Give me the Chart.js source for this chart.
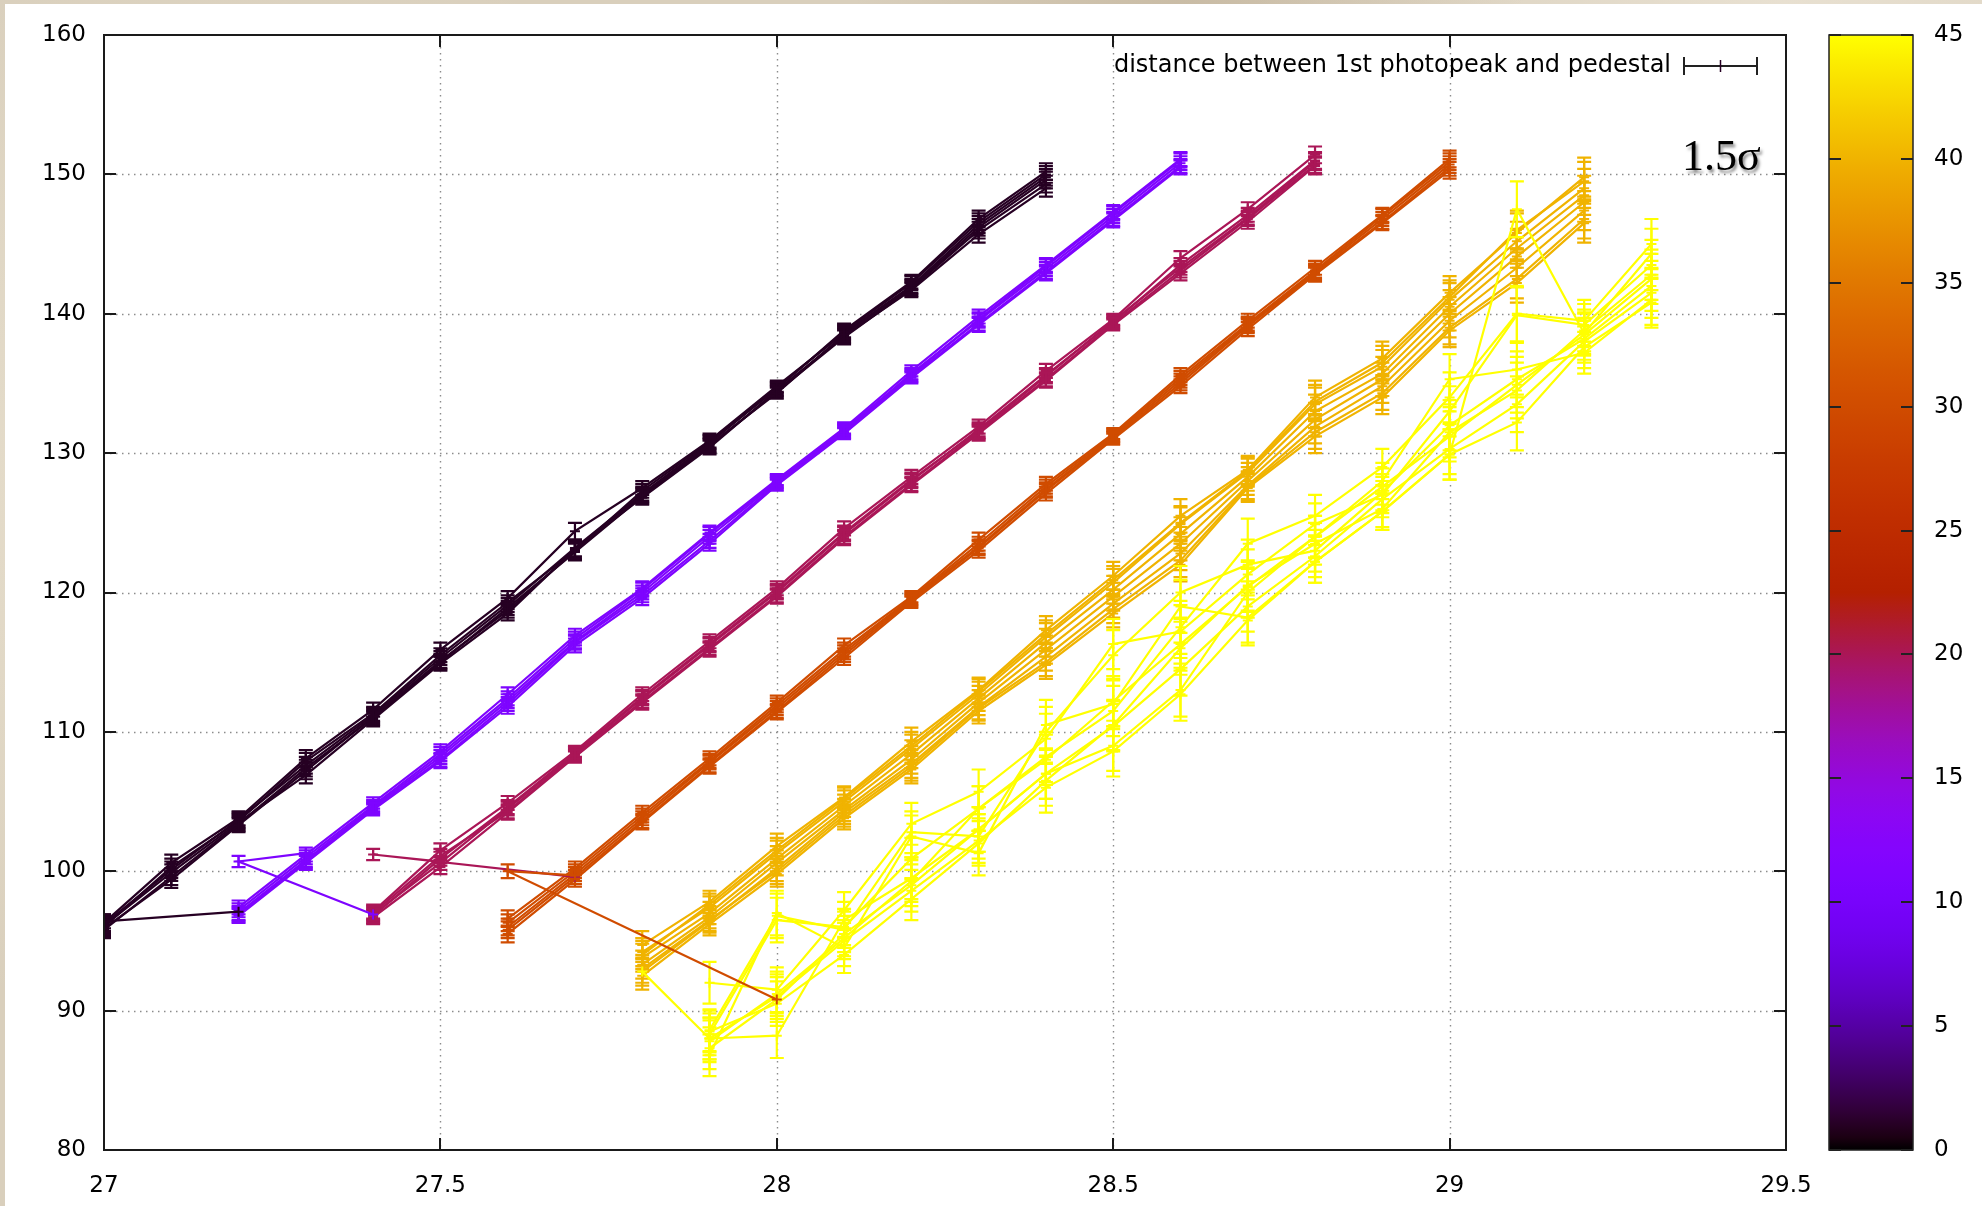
<!DOCTYPE html>
<html>
<head>
<meta charset="utf-8">
<script src="https://cdn.jsdelivr.net/npm/chart.js@4.4.1/dist/chart.umd.min.js"></script>
<style>
html,body{margin:0;padding:0;}
body{width:1982px;height:1206px;overflow:hidden;position:relative;
  background-color:#d9cfbc;
  background-image:
    radial-gradient(circle at 12% 40%, rgba(255,250,235,0.45), rgba(255,250,235,0) 30%),
    radial-gradient(circle at 60% 2%, rgba(170,150,120,0.35), rgba(170,150,120,0) 20%),
    radial-gradient(circle at 90% 1%, rgba(255,250,240,0.4), rgba(255,250,240,0) 25%);}
#panel{position:absolute;left:5px;top:4px;right:0;bottom:0;background:#ffffff;}
#wrap{position:absolute;left:0;top:0;width:1982px;height:1206px;}
</style>
</head>
<body>
<div id="panel"></div>
<div id="wrap"><canvas id="c" width="1982" height="1206"></canvas></div>
<script>
// ---------- tick labels ----------
const xTicks = [27, 27.5, 28, 28.5, 29, 29.5];
const yTicks = [80, 90, 100, 110, 120, 130, 140, 150, 160];
const cbTicks = [0, 5, 10, 15, 20, 25, 30, 35, 40, 45];

// ---------- palette values of the groups ----------
const groupValues = [1, 11, 20, 30, 40, 45];

// ---------- x values of the groups ----------
const xBlack   = [27.0, 27.1, 27.2, 27.3, 27.4, 27.5, 27.6, 27.7, 27.8, 27.9, 28.0, 28.1, 28.2, 28.3, 28.4];
const xViolet  = [27.2, 27.3, 27.4, 27.5, 27.6, 27.7, 27.8, 27.9, 28.0, 28.1, 28.2, 28.3, 28.4, 28.5, 28.6];
const xMagenta = [27.4, 27.5, 27.6, 27.7, 27.8, 27.9, 28.0, 28.1, 28.2, 28.3, 28.4, 28.5, 28.6, 28.7, 28.8];
const xOrange  = [27.6, 27.7, 27.8, 27.9, 28.0, 28.1, 28.2, 28.3, 28.4, 28.5, 28.6, 28.7, 28.8, 28.9, 29.0];
const xAmber   = [27.8, 27.9, 28.0, 28.1, 28.2, 28.3, 28.4, 28.5, 28.6, 28.7, 28.8, 28.9, 29.0, 29.1, 29.2];
const xYellow  = [27.9, 28.0, 28.1, 28.2, 28.3, 28.4, 28.5, 28.6, 28.7, 28.8, 28.9, 29.0, 29.1, 29.2, 29.3];

// ---------- y values (one array per line) ----------
const yBlack = [
  [96.0, 100.3, 103.6, 107.9, 111.3, 115.5, 119.3, 123.0, 127.3, 130.8, 134.6, 138.8, 142.3, 146.8, 150.2],
  [96.3, 100.6, 103.8, 108.1, 111.6, 115.9, 119.6, 124.4, 127.5, 130.9, 134.8, 138.6, 142.0, 146.4, 149.8],
  [95.8, 99.6, 103.4, 107.4, 111.0, 115.0, 118.9, 122.9, 126.9, 130.5, 134.4, 138.3, 141.8, 146.0, 149.3],
  [96.1, 99.9, 103.5, 106.9, 110.9, 114.9, 118.5, 123.1, 126.8, 130.4, 134.5, 138.4, 141.7, 145.7, 149.0],
  [96.2, 100.1, 103.7, 107.6, 111.2, 115.3, 119.1, 123.2, 127.1, 130.7, 134.7, 138.7, 142.2, 146.6, 150.0],
  [95.9, 99.4, 103.3, 107.2, 111.1, 115.1, 118.7, 123.0, 127.0, 130.6, 134.3, 138.5, 141.9, 146.2, 149.6]
];
const yViolet = [
  [97.0, 100.8, 104.6, 108.2, 112.2, 116.5, 120.0, 124.0, 127.9, 131.6, 135.7, 139.5, 143.2, 147.0, 150.8],
  [97.4, 101.2, 104.9, 108.6, 112.7, 116.9, 120.3, 124.3, 128.1, 131.8, 135.9, 139.8, 143.5, 147.3, 151.1],
  [96.8, 100.6, 104.4, 107.9, 111.8, 116.2, 119.6, 123.5, 127.7, 131.4, 135.4, 139.2, 142.9, 146.7, 150.5],
  [97.2, 101.0, 104.7, 108.4, 112.4, 116.7, 120.2, 124.2, 128.0, 131.7, 135.6, 139.6, 143.4, 147.2, 151.0],
  [96.9, 100.7, 104.5, 108.0, 112.0, 116.4, 119.8, 123.7, 127.8, 131.5, 135.5, 139.3, 143.0, 146.8, 150.6]
];
const yMagenta = [
  [96.9, 100.6, 104.5, 108.4, 112.4, 116.2, 120.0, 124.2, 128.0, 131.7, 135.6, 139.4, 143.5, 147.1, 151.0],
  [97.1, 101.5, 104.9, 108.6, 112.7, 116.5, 120.3, 124.6, 128.3, 131.9, 135.9, 139.6, 144.0, 147.5, 151.4],
  [96.7, 100.3, 104.2, 108.2, 112.1, 115.9, 119.7, 123.9, 127.7, 131.4, 135.2, 139.2, 142.9, 146.6, 150.6],
  [96.8, 100.9, 104.6, 108.5, 112.5, 116.3, 120.1, 124.3, 128.1, 131.6, 135.5, 139.5, 143.3, 146.9, 150.9],
  [97.0, 101.1, 104.3, 108.3, 112.2, 116.0, 119.8, 124.0, 127.8, 131.5, 135.3, 139.3, 143.1, 146.8, 150.7]
];
const yOrange = [
  [96.0, 99.8, 103.8, 107.8, 111.7, 115.7, 119.5, 123.3, 127.4, 131.2, 135.2, 139.2, 143.0, 146.8, 150.7],
  [96.6, 100.2, 104.2, 108.1, 112.1, 116.2, 119.7, 123.8, 127.8, 131.4, 135.6, 139.5, 143.3, 147.1, 151.1],
  [95.5, 99.4, 103.5, 107.5, 111.4, 115.3, 119.3, 123.0, 127.1, 131.0, 134.8, 138.9, 142.8, 146.5, 150.3],
  [96.3, 100.0, 104.0, 107.9, 111.9, 115.9, 119.6, 123.5, 127.6, 131.3, 135.4, 139.3, 143.1, 147.0, 150.9],
  [95.8, 99.6, 103.6, 107.6, 111.5, 115.5, 119.4, 123.2, 127.3, 131.1, 135.0, 139.1, 142.9, 146.6, 150.5]
];
const yAmber = [
  [94.7, 97.8, 101.8, 105.3, 109.3, 113.0, 117.3, 121.2, 125.5, 128.8, 134.0, 136.8, 141.5, 145.8, 149.8],
  [94.2, 97.4, 101.3, 105.0, 108.8, 112.7, 116.8, 120.7, 124.9, 128.6, 133.5, 136.2, 141.0, 145.2, 149.0],
  [93.8, 97.0, 100.9, 104.7, 108.4, 112.4, 116.4, 120.2, 124.2, 128.3, 133.0, 135.7, 140.5, 144.7, 148.5],
  [93.3, 96.7, 100.6, 104.4, 108.0, 112.1, 115.9, 119.7, 123.5, 128.0, 132.4, 135.3, 140.0, 144.1, 148.0],
  [92.8, 96.4, 100.2, 104.2, 107.7, 111.8, 115.4, 119.2, 122.8, 127.7, 131.9, 134.8, 139.5, 143.3, 147.4],
  [93.0, 96.5, 100.0, 104.0, 107.5, 111.7, 115.0, 118.8, 122.3, 127.6, 131.5, 134.3, 139.0, 142.5, 146.8],
  [94.0, 97.6, 101.5, 105.2, 109.0, 112.9, 117.0, 120.9, 125.0, 128.7, 133.7, 136.5, 141.2, 146.0, 149.5],
  [92.5, 96.2, 99.8, 103.8, 107.3, 111.5, 114.8, 118.5, 122.0, 127.5, 131.2, 134.0, 138.8, 142.2, 146.5]
];
const yYellow = [
  [88.0, 91.0, 95.0, 98.6, 102.2, 106.0, 108.6, 112.7, 118.0, 122.2, 125.8, 129.9, 132.2, 137.6, 140.8],
  [87.3, 90.8, 95.5, 99.0, 103.0, 107.0, 110.4, 114.5, 119.0, 122.6, 126.7, 130.3, 133.5, 138.0, 141.5],
  [88.3, 96.5, 96.0, 100.9, 104.5, 108.0, 112.2, 116.3, 120.4, 124.0, 127.6, 131.2, 134.9, 138.5, 142.5],
  [92.0, 91.5, 97.2, 103.4, 105.7, 109.5, 116.3, 117.2, 121.3, 124.9, 127.0, 133.0, 139.9, 139.2, 143.5],
  [86.8, 97.0, 94.5, 102.5, 101.3, 110.5, 112.0, 119.0, 118.2, 122.2, 125.8, 129.9, 147.5, 138.6, 144.3],
  [88.0, 88.2, 96.5, 99.5, 103.0, 107.0, 109.0, 113.0, 120.0, 124.0, 128.0, 135.3, 136.0, 137.2, 141.0],
  [88.5, 90.5, 94.0, 98.0, 102.0, 106.5, 110.5, 116.0, 120.5, 123.5, 126.0, 131.5, 134.5, 138.8, 142.8],
  [87.8, 91.2, 95.2, 99.3, 104.5, 108.2, 111.5, 117.5, 123.5, 125.5, 129.0, 134.0, 140.0, 139.5, 145.0],
  [88.6, 96.8, 95.8, 102.8, 102.5, 110.0, 115.5, 120.0, 122.0, 123.0, 127.2, 132.0, 135.3, 138.2, 142.0]
];

// ---------- error bar half-widths per group ----------
const errBlack   = [0.6, 0.6, 0.5, 0.6, 0.5, 0.5, 0.5, 0.6, 0.5, 0.5, 0.4, 0.5, 0.5, 0.6, 0.6];
const errViolet  = [0.5, 0.5, 0.4, 0.5, 0.5, 0.5, 0.5, 0.5, 0.4, 0.4, 0.4, 0.5, 0.5, 0.5, 0.5];
const errMagenta = [0.5, 0.5, 0.5, 0.4, 0.5, 0.5, 0.5, 0.5, 0.5, 0.5, 0.5, 0.4, 0.5, 0.5, 0.6];
const errOrange  = [0.6, 0.5, 0.5, 0.5, 0.5, 0.5, 0.4, 0.5, 0.5, 0.4, 0.5, 0.5, 0.5, 0.5, 0.6];
const errAmber   = [1.0, 0.8, 0.9, 0.8, 1.0, 0.9, 1.0, 1.0, 1.2, 1.0, 1.2, 1.2, 1.2, 1.4, 1.4];
const errYellow  = [1.5, 1.6, 1.3, 1.5, 1.6, 1.8, 1.8, 1.9, 1.8, 1.5, 1.3, 1.8, 2.0, 1.5, 1.8];

// ---------- short connecting segments between groups ----------
const strayValues = [1, 11, 20, 30, 45];
const strayX = [[27.0, 27.2], [27.3, 27.2, 27.4], [27.5, 27.4, 27.7], [27.7, 27.6, 28.0], [27.8, 27.9]];
const strayY = [[96.4, 97.1], [101.3, 100.7, 96.9], [100.7, 101.2, 99.6], [99.7, 100.0, 90.8], [92.8, 88.0]];
const strayErr = [[0.5, 0], [0, 0.4, 0], [0, 0.4, 0], [0, 0.5, 0], [0, 0]];

// ---------- palette (gnuplot rgbformulae 7,5,15, cbrange 0..45) ----------
const CBMAX = 45;
function pal(v) {
  const t = Math.min(1, Math.max(0, v / CBMAX));
  const r = Math.sqrt(t), g = t * t * t, b = Math.max(0, Math.sin(2 * Math.PI * t));
  return 'rgb(' + Math.round(255 * r) + ',' + Math.round(255 * g) + ',' + Math.round(255 * b) + ')';
}

// ---------- build datasets ----------
const groups = [
  {x: xBlack, ys: yBlack, err: errBlack},
  {x: xViolet, ys: yViolet, err: errViolet},
  {x: xMagenta, ys: yMagenta, err: errMagenta},
  {x: xOrange, ys: yOrange, err: errOrange},
  {x: xAmber, ys: yAmber, err: errAmber},
  {x: xYellow, ys: yYellow, err: errYellow}
];
const datasets = [];
function addSet(xs, ys, errs, val) {
  const col = pal(val);
  datasets.push({
    label: 'distance between 1st photopeak and pedestal',
    data: xs.map((x, i) => ({x: x, y: ys[i]})),
    errors: errs,
    borderColor: col,
    backgroundColor: col,
    borderWidth: 2.2,
    pointStyle: 'cross',
    pointRadius: 5,
    pointBorderWidth: 2,
    pointHoverRadius: 5,
    tension: 0,
    fill: false
  });
}
groups.forEach((g, gi) => g.ys.forEach(ys => addSet(g.x, ys, g.err, groupValues[gi])));
strayX.forEach((xs, i) => addSet(xs, strayY[i], strayErr[i], strayValues[i]));
datasets.forEach((d, i) => { d.order = datasets.length - i; });

const FONT = '"DejaVu Sans", Verdana, sans-serif';
const FSIZE = 23;
const TICK = 12;

const decorPlugin = {
  id: 'decor',
  beforeDatasetsDraw(chart) {
    const ctx = chart.ctx, ca = chart.chartArea, xs = chart.scales.x, ys = chart.scales.y;
    ctx.save();
    ctx.strokeStyle = '#8c8c8c';
    ctx.lineWidth = 1.4;
    ctx.setLineDash([1.5, 4.5]);
    xTicks.forEach(v => {
      if (v === xs.min || v === xs.max) return;
      const p = Math.round(xs.getPixelForValue(v)) + 0.5;
      ctx.beginPath(); ctx.moveTo(p, ca.top); ctx.lineTo(p, ca.bottom); ctx.stroke();
    });
    yTicks.forEach(v => {
      if (v === ys.min || v === ys.max) return;
      const p = Math.round(ys.getPixelForValue(v)) + 0.5;
      ctx.beginPath(); ctx.moveTo(ca.left, p); ctx.lineTo(ca.right, p); ctx.stroke();
    });
    ctx.restore();
  },
  afterDatasetDraw(chart, args) {
    const ds = chart.data.datasets[args.index];
    if (!ds.errors) return;
    const ctx = chart.ctx, ca = chart.chartArea, xs = chart.scales.x, ys = chart.scales.y;
    ctx.save();
    ctx.beginPath(); ctx.rect(ca.left, ca.top, ca.width, ca.height); ctx.clip();
    ctx.strokeStyle = ds.borderColor;
    ctx.lineWidth = 2.2;
    ds.data.forEach((p, i) => {
      const e = ds.errors[i];
      if (!e) return;
      const px = xs.getPixelForValue(p.x);
      const y1 = ys.getPixelForValue(p.y - e), y2 = ys.getPixelForValue(p.y + e);
      ctx.beginPath();
      ctx.moveTo(px, y1); ctx.lineTo(px, y2);
      ctx.moveTo(px - 7, y1); ctx.lineTo(px + 7, y1);
      ctx.moveTo(px - 7, y2); ctx.lineTo(px + 7, y2);
      ctx.stroke();
    });
    ctx.restore();
  },
  afterDatasetsDraw(chart) {
    const ctx = chart.ctx, ca = chart.chartArea, xs = chart.scales.x, ys = chart.scales.y;
    ctx.save();
    ctx.strokeStyle = '#1a1a1a';
    ctx.lineWidth = 2;
    ctx.strokeRect(Math.round(ca.left), Math.round(ca.top), Math.round(ca.width), Math.round(ca.height));
    ctx.beginPath();
    xTicks.forEach(v => {
      const p = Math.round(xs.getPixelForValue(v));
      ctx.moveTo(p, ca.bottom); ctx.lineTo(p, ca.bottom - TICK);
      ctx.moveTo(p, ca.top); ctx.lineTo(p, ca.top + TICK);
    });
    yTicks.forEach(v => {
      const p = Math.round(ys.getPixelForValue(v));
      ctx.moveTo(ca.left, p); ctx.lineTo(ca.left + TICK, p);
      ctx.moveTo(ca.right, p); ctx.lineTo(ca.right - TICK, p);
    });
    ctx.stroke();
    ctx.restore();
  },
  afterDraw(chart) {
    const ctx = chart.ctx, ca = chart.chartArea, cb = chart.scales.cb;
    // colour box
    const bx0 = ca.right + 43, bx1 = ca.right + 127;
    const top = cb.getPixelForValue(cbTicks[cbTicks.length - 1]), bot = cb.getPixelForValue(cbTicks[0]);
    const grad = ctx.createLinearGradient(0, bot, 0, top);
    for (let k = 0; k <= 90; k++) grad.addColorStop(k / 90, pal(CBMAX * k / 90));
    ctx.save();
    ctx.fillStyle = grad;
    ctx.fillRect(bx0, top, bx1 - bx0, bot - top);
    ctx.strokeStyle = '#222';
    ctx.lineWidth = 1.5;
    ctx.strokeRect(bx0, top, bx1 - bx0, bot - top);
    ctx.beginPath();
    cbTicks.forEach(v => {
      const p = Math.round(cb.getPixelForValue(v));
      ctx.moveTo(bx0, p); ctx.lineTo(bx0 + TICK, p);
      ctx.moveTo(bx1, p); ctx.lineTo(bx1 - TICK, p);
    });
    ctx.lineWidth = 2;
    ctx.stroke();

    // key
    const ky = ca.top + 31;
    ctx.fillStyle = '#000';
    ctx.font = '24px ' + FONT;
    ctx.textAlign = 'right';
    ctx.textBaseline = 'middle';
    ctx.fillText('distance between 1st photopeak and pedestal', ca.right - 115, ky);
    const sx0 = ca.right - 102, sx1 = ca.right - 29;
    ctx.strokeStyle = '#222';
    ctx.lineWidth = 2;
    ctx.beginPath();
    ctx.moveTo(sx0, ky); ctx.lineTo(sx1, ky);
    ctx.moveTo(sx0, ky - 9); ctx.lineTo(sx0, ky + 9);
    ctx.moveTo(sx1, ky - 9); ctx.lineTo(sx1, ky + 9);
    ctx.stroke();
    ctx.strokeStyle = pal(groupValues[0]);
    ctx.lineWidth = 1.5;
    ctx.beginPath();
    ctx.moveTo((sx0 + sx1) / 2, ky - 6); ctx.lineTo((sx0 + sx1) / 2, ky + 6);
    ctx.stroke();

    // annotation
    ctx.font = '44px "Liberation Serif", "Times New Roman", serif';
    ctx.textAlign = 'left';
    ctx.textBaseline = 'alphabetic';
    ctx.shadowColor = 'rgba(0,0,0,0.45)';
    ctx.shadowOffsetX = 2; ctx.shadowOffsetY = 3; ctx.shadowBlur = 3;
    ctx.fillStyle = '#000';
    ctx.fillText('1.5\u03c3', ca.right - 104, ca.top + 135);
    ctx.restore();
  }
};

function zeroPad(s) { s.paddingTop = 0; s.paddingBottom = 0; s.paddingLeft = 0; s.paddingRight = 0; }

new Chart(document.getElementById('c'), {
  type: 'line',
  data: {datasets: datasets},
  plugins: [decorPlugin],
  options: {
    responsive: false,
    animation: false,
    events: [],
    layout: {padding: {left: 0, right: 0, top: 35, bottom: 0}},
    plugins: {legend: {display: false}, tooltip: {enabled: false}},
    scales: {
      x: {
        type: 'linear', min: xTicks[0], max: xTicks[xTicks.length - 1],
        afterBuildTicks: s => { s.ticks = xTicks.map(v => ({value: v})); },
        afterFit: s => { s.height = 56; zeroPad(s); },
        grid: {display: false, drawTicks: false},
        border: {display: false},
        ticks: {padding: 22, color: '#000', font: {family: FONT, size: FSIZE}, maxRotation: 0,
                callback: v => String(v)}
      },
      y: {
        type: 'linear', min: yTicks[0], max: yTicks[yTicks.length - 1],
        afterBuildTicks: s => { s.ticks = yTicks.map(v => ({value: v})); },
        afterFit: s => { s.width = 104; zeroPad(s); },
        grid: {display: false, drawTicks: false},
        border: {display: false},
        ticks: {padding: 18, color: '#000', font: {family: FONT, size: FSIZE}, callback: v => String(v)}
      },
      cb: {
        type: 'linear', position: 'right', axis: 'y', min: cbTicks[0], max: cbTicks[cbTicks.length - 1],
        afterBuildTicks: s => { s.ticks = cbTicks.map(v => ({value: v})); },
        afterFit: s => { s.width = 196; zeroPad(s); },
        grid: {display: false, drawTicks: false},
        border: {display: false},
        ticks: {padding: 148, color: '#000', font: {family: FONT, size: FSIZE}, callback: v => String(v)}
      }
    }
  }
});
</script>
</body>
</html>
